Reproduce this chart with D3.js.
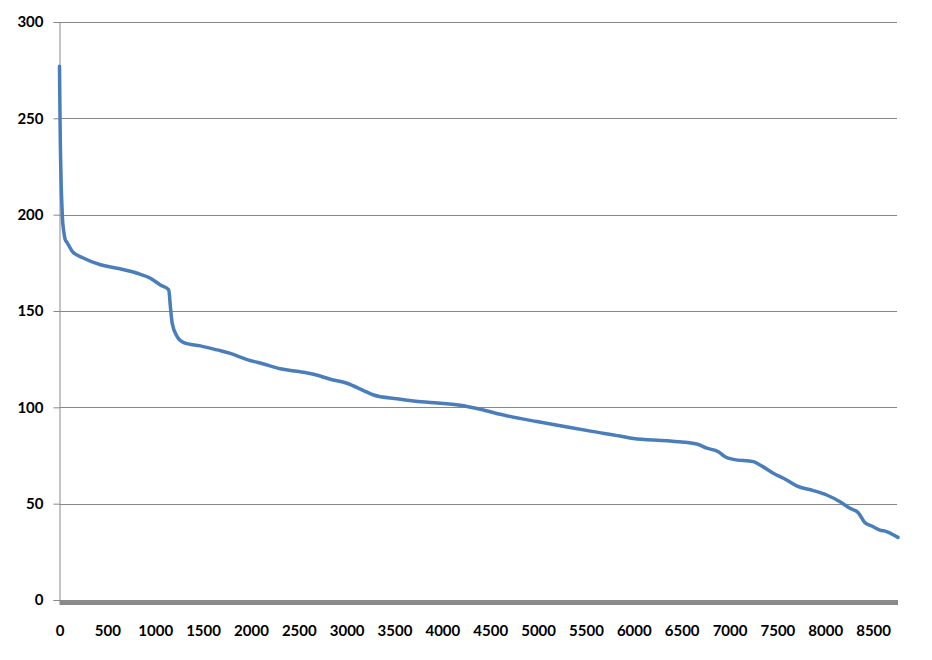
<!DOCTYPE html>
<html>
<head>
<meta charset="utf-8">
<script src="https://cdn.jsdelivr.net/npm/d3@7"></script>
<style>
  html, body { margin: 0; padding: 0; background: #fff; }
  svg { display: block; }
</style>
</head>
<body>
<svg id="chart" width="932" height="660"></svg>
<script>
// Hours (sorted load duration) and values
const hours = [0, 3, 6, 9, 12, 18, 25, 30, 45, 60, 80, 133, 254, 428, 602, 811, 950, 1054, 1141, 1159, 1177, 1229, 1298, 1472, 1646, 1785, 1960, 2133, 2307, 2481, 2655, 2829, 3003, 3177, 3281, 3525, 3699, 3873, 4186, 4395, 4639, 4987, 5335, 5578, 5857, 5996, 6344, 6657, 6762, 6883, 6953, 7040, 7249, 7318, 7457, 7597, 7701, 7875, 8015, 8154, 8258, 8345, 8415, 8485, 8571, 8641, 8745, 8760];
const values = [277, 262, 248, 236, 228, 215, 205, 199, 191, 187, 185.5, 181, 177.4, 174, 172.2, 169.6, 167, 163.5, 161, 152, 143.7, 136.7, 133.6, 131.9, 129.8, 128, 124.8, 122.5, 120, 118.7, 117.2, 114.6, 112.5, 108.7, 106.4, 104.4, 103.3, 102.5, 101.1, 99, 96, 92.6, 89.5, 87.4, 85.1, 83.8, 82.6, 81, 78.8, 77, 74.4, 73, 71.8, 70.1, 65.8, 62.3, 59.2, 56.8, 54.5, 51, 47.6, 45.3, 40.1, 38.4, 36.3, 35.5, 32.9, 32.5];
const yTicks = [0, 50, 100, 150, 200, 250, 300];
const xTicks = [0, 500, 1000, 1500, 2000, 2500, 3000, 3500, 4000, 4500, 5000, 5500, 6000, 6500, 7000, 7500, 8000, 8500];

const data = hours.map((h, i) => ({ h, v: values[i] }));

const svg = d3.select("#chart");
const mLeft = 59.5, mRight = 898, mTop = 22, mBottom = 600;

const x = d3.scaleLinear().domain([0, 8760]).range([mLeft, mRight]);
const y = d3.scaleLinear().domain([0, 300]).range([mBottom, mTop]);

const font = "Lato, 'Open Sans', sans-serif";

// gridlines
svg.append("g")
  .selectAll("line")
  .data(yTicks.filter(d => d > 0))
  .join("line")
  .attr("x1", mLeft).attr("x2", 897)
  .attr("y1", d => Math.round(y(d)) + 0.5).attr("y2", d => Math.round(y(d)) + 0.5)
  .attr("stroke", "#878787").attr("stroke-width", 1);

// y axis
const yAxis = svg.append("g")
  .attr("transform", `translate(${mLeft},0)`)
  .call(d3.axisLeft(y).tickValues(yTicks).tickSize(6).tickPadding(10));
yAxis.select(".domain").attr("stroke", "#878787");
yAxis.selectAll(".tick line").attr("stroke", "#878787");
yAxis.selectAll(".tick text")
  .attr("font-family", font).attr("font-weight", "bold")
  .attr("font-size", 15).attr("fill", "#000");

// x baseline (thick floor bar)
svg.append("rect")
  .attr("x", x(0)).attr("y", 600)
  .attr("width", x(8760) - x(0)).attr("height", 5)
  .attr("fill", "#8a8a8a");

// x axis labels
const xAxis = svg.append("g")
  .attr("transform", `translate(0,605)`)
  .call(d3.axisBottom(x).tickValues(xTicks).tickSize(0).tickPadding(20).tickFormat(d3.format("d")));
xAxis.select(".domain").remove();
xAxis.selectAll(".tick text")
  .attr("font-family", font).attr("font-weight", "bold")
  .attr("font-size", 15).attr("fill", "#000");

// line
const line = d3.line()
  .x(d => x(d.h))
  .y(d => y(d.v))
  .curve(d3.curveMonotoneX);

svg.append("path")
  .datum(data)
  .attr("fill", "none")
  .attr("stroke", "#4a7ebb")
  .attr("stroke-width", 3.5)
  .attr("stroke-linejoin", "round")
  .attr("stroke-linecap", "round")
  .attr("d", line);
</script>
</body>
</html>
